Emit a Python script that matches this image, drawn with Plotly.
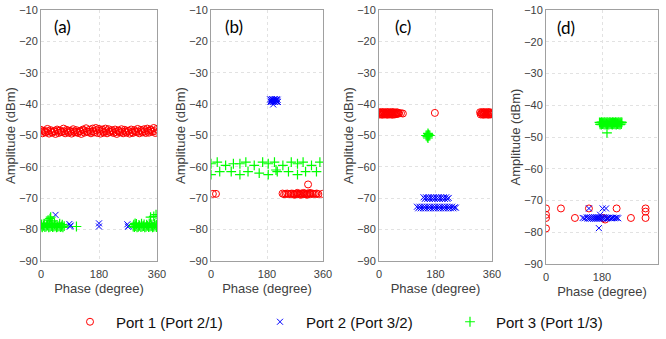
import plotly.graph_objects as go

# ---------------- data ----------------
# Panel (a)
a_p1_phase = [0, 10, 20, 30, 40, 50, 60, 70, 80, 90, 100, 110, 120, 130, 140, 150, 160, 170, 180,
              190, 200, 210, 220, 230, 240, 250, 260, 270, 280, 290, 300, 310, 320, 330, 340, 350, 360,
              5, 15, 25, 35, 45, 55, 65, 75, 85, 95, 105, 115, 125, 135, 145, 155, 165, 175, 185,
              195, 205, 215, 225, 235, 245, 255, 265, 275, 285, 295, 305, 315, 325, 335, 345, 355,
              2, 12, 22, 32, 42, 52, 62, 72, 82, 92, 102, 112, 122, 132, 142, 152, 162, 172, 182,
              192, 202, 212, 222, 232, 242, 252, 262, 272, 282, 292, 302, 312, 322, 332, 342, 352]
a_p1_amp = [-48.2, -48.5, -47.9, -48.3, -48.6, -48.1, -48.4, -47.8, -48.2, -48.5, -48.0, -48.3, -48.6,
            -48.1, -47.7, -48.2, -47.8, -47.6, -47.9, -48.1, -47.8, -48.0, -48.3, -48.1, -48.4, -48.0,
            -48.2, -48.5, -48.1, -48.3, -47.9, -48.2, -48.0, -47.8, -48.1, -47.6, -47.9,
            -49.3, -49.0, -49.4, -49.1, -49.5, -49.2, -48.9, -49.3, -49.1, -49.4, -49.0, -49.2, -49.5,
            -49.1, -48.9, -49.3, -49.0, -49.2, -49.4, -49.1, -49.3, -48.9, -49.2, -49.5, -49.0, -49.3,
            -49.1, -49.4, -49.2, -48.9, -49.3, -49.0, -49.2, -49.1, -48.8, -49.2,
            -48.7, -48.9, -48.6, -48.8, -48.7, -48.5, -48.9, -48.7, -48.6, -48.8, -48.7, -48.9, -48.6,
            -48.4, -48.7, -48.8, -48.6, -48.3, -48.5, -48.7, -48.6, -48.8, -48.7, -48.9, -48.6, -48.8,
            -48.7, -48.6, -48.9, -48.7, -48.8, -48.6, -48.7, -48.5, -48.4, -48.6]
a_p2_phase = [0, 2, 45, 88, 90, 92, 180, 180, 268, 270, 272, 355, 358]
a_p2_amp = [-78.5, -79.2, -75.3, -78.2, -79.0, -78.7, -78.0, -79.0, -78.3, -79.1, -78.8, -78.6, -79.0]
a_p3_phase = [0, 4, 8, 12, 16, 20, 24, 28, 32, 36, 40, 44, 48, 52, 56, 60, 64, 68, 72,
              2, 10, 18, 26, 34, 42, 50, 58, 66,
              22, 28, 34, 30, 110,
              286, 290, 294, 298, 302, 306, 310, 314, 318, 322, 326, 330, 334, 338, 342, 346, 350,
              354, 358, 360,
              288, 296, 304, 312, 320, 328, 336, 344, 352, 358,
              292, 340, 350, 357]
a_p3_amp = [-79.0, -79.3, -78.8, -79.2, -79.0, -78.7, -79.3, -79.1, -78.9, -79.2, -79.0, -78.8, -79.3,
            -79.1, -78.9, -79.2, -79.0, -79.3, -78.9,
            -78.3, -78.1, -78.4, -78.0, -78.3, -78.2, -78.5, -78.1, -78.4,
            -77.0, -76.5, -77.2, -76.0, -79.0,
            -79.0, -79.2, -78.9, -79.3, -79.1, -78.8, -79.2, -79.0, -78.9, -79.3, -79.1, -78.8, -79.2,
            -79.0, -78.9, -79.3, -79.1, -78.7, -79.2, -79.0,
            -78.4, -78.2, -78.5, -78.1, -78.3, -78.4, -78.0, -78.3, -78.2, -78.5,
            -78.0, -76.0, -75.8, -75.2]

# Panel (b)
b_p1_phase = [6, 16, 230, 235, 240, 245, 250, 255, 260, 265, 270, 275, 280, 285, 290, 295, 300, 305,
              310, 315, 320, 325, 330, 335, 340, 345, 268, 278, 288, 298, 308, 318, 312, 358]
b_p1_amp = [-68.6, -68.6, -68.5, -68.7, -68.6, -68.5, -68.7, -68.6, -68.5, -68.6, -68.7, -68.5, -68.6,
            -68.7, -68.5, -68.6, -68.6, -68.7, -68.5, -68.6, -68.7, -68.5, -68.6, -68.6, -68.5, -68.7,
            -68.9, -68.3, -68.9, -68.3, -68.9, -68.3, -65.6, -68.6]
b_p2_phase = [190, 193, 196, 199, 202, 205, 208, 211, 214, 191, 194, 197, 200, 203, 206, 209, 212, 215, 200]
b_p2_amp = [-38.5, -38.6, -38.4, -38.6, -38.5, -38.4, -38.6, -38.5, -38.6,
            -39.2, -39.3, -39.1, -39.3, -39.2, -39.3, -39.1, -39.2, -39.3, -40.1]
b_p3_phase = [0, 20, 47, 72, 93, 112, 139, 166, 184, 204, 231, 258, 278, 296, 323, 350,
              0, 28, 65, 93, 119, 155, 184, 213, 209, 249, 278, 304, 339]
b_p3_amp = [-59.0, -58.5, -59.5, -59.0, -59.0, -58.5, -59.5, -58.5, -59.0, -58.5, -59.5, -58.5,
            -59.0, -58.5, -59.5, -58.5,
            -62.5, -61.5, -61.5, -62.5, -61.5, -62.0, -62.5, -61.5, -61.0, -61.5, -62.5, -61.5, -61.5]

# Panel (c)
c_p1_phase = [0, 4, 8, 12, 16, 20, 24, 28, 32, 36, 40, 44, 48, 52, 56, 60, 64,
              2, 6, 10, 14, 18, 22, 26, 30, 34, 38, 42, 46, 50, 54, 58, 62,
              70, 76, 178,
              322, 326, 330, 334, 338, 342, 346, 350, 354, 358,
              324, 328, 332, 336, 340, 344, 348, 352, 356, 360]
c_p1_amp = [-42.6, -42.8, -42.5, -42.7, -42.6, -42.9, -42.5, -42.7, -42.6, -42.8, -42.5, -42.7, -42.6,
            -42.8, -42.6, -42.7, -42.9,
            -43.3, -43.1, -43.4, -43.2, -43.3, -43.1, -43.4, -43.2, -43.3, -43.1, -43.4, -43.2, -43.3,
            -43.2, -43.1, -43.0,
            -42.9, -43.0, -42.8,
            -42.6, -42.8, -42.5, -42.7, -42.6, -42.8, -42.5, -42.7, -42.6, -42.8,
            -43.3, -43.1, -43.4, -43.2, -43.3, -43.1, -43.4, -43.2, -43.3, -43.1]
c_p2_phase = [142, 146, 150, 154, 158, 162, 166, 170, 174, 178, 182, 186, 190, 194, 198, 202, 206,
              210, 214, 218, 222,
              121, 125, 129, 133, 137, 141, 145, 149, 153, 157, 161, 165, 169, 173, 177, 181, 185,
              189, 193, 197, 201, 205, 209, 213, 217, 221, 225, 229, 233, 237, 241, 245]
c_p2_amp = [-69.7, -70.2, -69.7, -70.2, -69.7, -70.2, -69.7, -70.2, -69.7, -70.2, -69.7, -70.2, -69.7,
            -70.2, -69.7, -70.2, -69.7, -70.2, -69.7, -70.2, -69.9,
            -72.7, -73.2, -72.7, -73.2, -72.7, -73.2, -72.7, -73.2, -72.7, -73.2, -72.7, -73.2, -72.7,
            -73.2, -72.7, -73.2, -72.7, -73.2, -72.7, -73.2, -72.7, -73.2, -72.7, -73.2, -72.7, -73.2,
            -72.7, -73.2, -72.7, -73.2, -72.9, -73.0]
c_p3_phase = [150, 153, 156, 159, 162, 156, 156, 154, 158, 156]
c_p3_amp = [-50.0, -50.0, -50.0, -50.0, -50.0, -49.3, -50.8, -50.4, -49.7, -50.2]

# Panel (d)
d_p1_phase = [0, 0, 0, 0, 48, 93, 138, 184, 190, 227, 273, 320, 320, 320]
d_p1_amp = [-72.5, -74.5, -75.5, -78.8, -72.5, -75.5, -72.5, -75.5, -76.0, -72.5, -75.5, -72.5, -73.5, -75.5]
d_p2_phase = [131, 134, 137, 140, 143, 146, 149, 152, 155, 158, 161, 164, 167, 170, 173, 176, 179,
              182, 185, 188, 191, 194, 197,
              200, 204, 208, 212, 216, 220, 224, 228, 232,
              118, 124,
              138, 182, 193, 174, 170]
d_p2_amp = [-75.3, -75.7, -75.3, -75.7, -75.3, -75.7, -75.3, -75.7, -75.3, -75.7, -75.3, -75.7,
            -75.3, -75.7, -75.3, -75.7, -75.3, -75.7, -75.3, -75.7, -75.3, -75.7, -75.5,
            -75.5, -75.4, -75.6, -75.5, -75.4, -75.6, -75.5, -75.4, -75.6,
            -75.5, -75.6,
            -72.5, -72.5, -72.5, -74.5, -78.7]
d_p3_phase = [172, 175, 178, 181, 184, 187, 190, 193, 196, 199, 202, 205, 208, 211, 214, 217, 220,
              223, 226, 229, 232, 235, 238, 241, 244,
              174, 178, 182, 186, 190, 194, 198, 202, 206, 210, 214, 218, 222, 226, 230, 234, 238, 242,
              196]
d_p3_amp = [-45.4, -45.5, -45.3, -45.4, -45.5, -45.3, -45.4, -45.5, -45.3, -45.4, -45.5, -45.3, -45.4,
            -45.5, -45.3, -45.4, -45.5, -45.3, -45.4, -45.5, -45.3, -45.4, -45.5, -45.3, -45.4,
            -46.0, -46.1, -45.9, -46.0, -46.1, -45.9, -46.0, -46.1, -45.9, -46.0, -46.1, -45.9, -46.0,
            -46.1, -45.9, -46.0, -46.1, -45.9,
            -48.7]

panel_labels = ["(a)", "(b)", "(c)", "(d)"]
series_names = ["Port 1 (Port 2/1)", "Port 2 (Port 3/2)", "Port 3 (Port 1/3)"]
x_ticks = [0, 180, 360]

panels = [
    [(a_p1_phase, a_p1_amp), (a_p2_phase, a_p2_amp), (a_p3_phase, a_p3_amp)],
    [(b_p1_phase, b_p1_amp), (b_p2_phase, b_p2_amp), (b_p3_phase, b_p3_amp)],
    [(c_p1_phase, c_p1_amp), (c_p2_phase, c_p2_amp), (c_p3_phase, c_p3_amp)],
    [(d_p1_phase, d_p1_amp), (d_p2_phase, d_p2_amp), (d_p3_phase, d_p3_amp)],
]
for p in panels:
    for xs, ys in p:
        assert len(xs) == len(ys), (len(xs), len(ys))

# ---------------- styling ----------------
W, H = 666, 339
styles = [
    dict(symbol="circle-open", size=7, color="#ff0000", line=dict(width=1, color="#ff0000")),
    dict(symbol="x-thin-open", size=6, color="#0000ff", line=dict(width=1, color="#0000ff")),
    dict(symbol="cross-thin-open", size=7, color="#00ff00", line=dict(width=1.2, color="#00ff00")),
]
x_px = [(41, 157), (211, 323), (379, 492), (546, 658)]
y_px = [(10, 261), (10, 261), (10, 261), (10, 264)]
label_px = [(52, 27), (223, 27), (393, 27), (555, 28)]

fig = go.Figure()
for i, p in enumerate(panels):
    suf = "" if i == 0 else str(i + 1)
    for j, (xs, ys) in enumerate(p):
        fig.add_trace(go.Scatter(
            x=xs, y=ys, mode="markers", name=series_names[j],
            marker=styles[j], xaxis="x" + suf, yaxis="y" + suf,
            legendgroup=series_names[j], showlegend=(i == 0),
        ))

font_fam = "Liberation Sans, Arial, sans-serif"
layout = dict(
    width=W, height=H, margin=dict(l=0, r=0, t=0, b=0),
    paper_bgcolor="white", plot_bgcolor="white",
    font=dict(family=font_fam, color="#404040"),
    showlegend=True,
    legend=dict(orientation="h", x=64 / W, xanchor="left", y=1 - 322 / H, yanchor="middle",
                font=dict(size=15, color="#111111", family=font_fam), entrywidth=133,
                bgcolor="rgba(0,0,0,0)", itemwidth=42),
    annotations=[],
)
for i in range(4):
    suf = "" if i == 0 else str(i + 1)
    x0, x1 = x_px[i]
    y0, y1 = y_px[i]
    layout["xaxis" + suf] = dict(
        domain=[x0 / W, x1 / W], anchor="y" + suf, range=[0, 360], tickvals=x_ticks,
        showgrid=True, gridcolor="#e2e2e2", griddash="dot", gridwidth=1,
        showline=True, mirror=True, linecolor="#a0a0a0", linewidth=1, zeroline=False,
        tickfont=dict(size=11, color="#404040"), ticklabelstandoff=3,
        title=dict(text="Phase (degree)", font=dict(size=13, color="#404040"), standoff=4),
        automargin=False, fixedrange=True,
    )
    layout["yaxis" + suf] = dict(
        domain=[1 - y1 / H, 1 - y0 / H], anchor="x" + suf, range=[-90, -10], dtick=10,
        showgrid=True, gridcolor="#e2e2e2", griddash="dot", gridwidth=1,
        showline=True, mirror=True, linecolor="#a0a0a0", linewidth=1, zeroline=False,
        tickfont=dict(size=11, color="#404040"),
        title=dict(text="Amplitude (dBm)", font=dict(size=13, color="#404040"), standoff=0),
        automargin=False, fixedrange=True,
    )
    lx, ly = label_px[i]
    layout["annotations"].append(dict(
        text=panel_labels[i], xref="x" + suf + " domain", yref="y" + suf + " domain",
        x=(lx - x0) / (x1 - x0), y=1 - (ly - y0) / (y1 - y0), xanchor="left", yanchor="middle",
        showarrow=False, font=dict(size=17, color="#000000", family="Lato, Liberation Sans"),
    ))

fig.update_layout(**layout)
fig.write_html("out.html", config={"displayModeBar": False},
               post_script="document.body.style.margin='0px';")
